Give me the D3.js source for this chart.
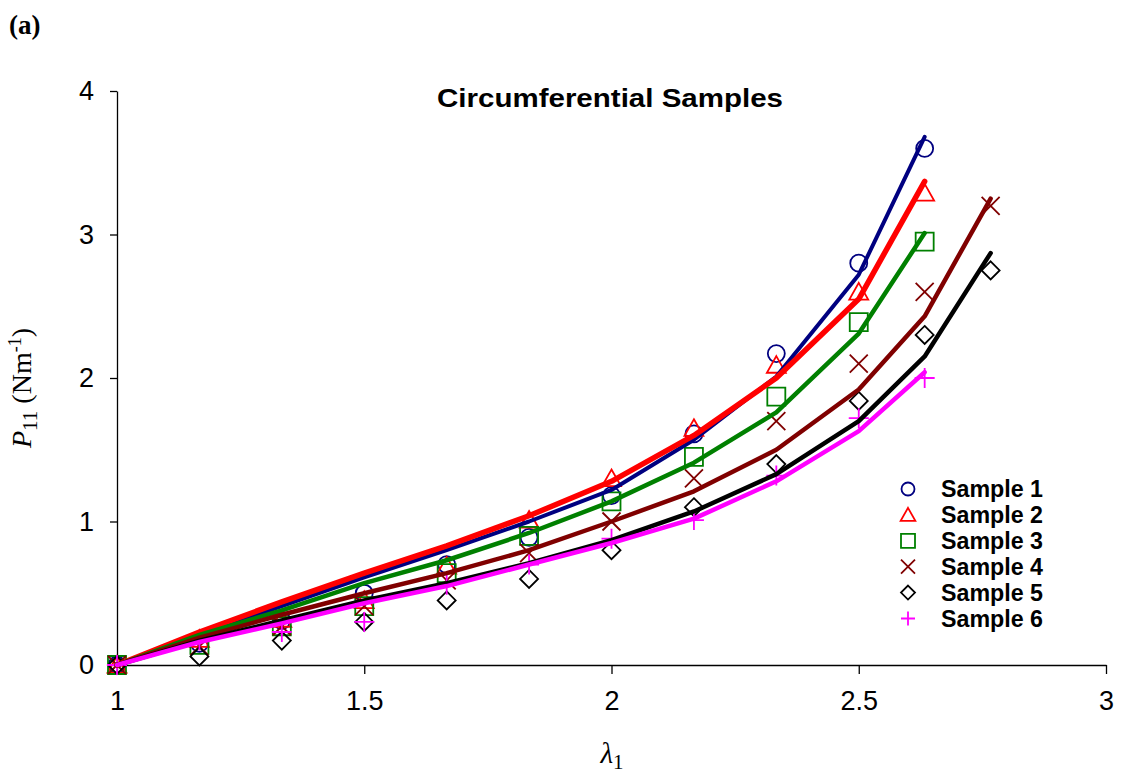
<!DOCTYPE html>
<html>
<head>
<meta charset="utf-8">
<script src="https://cdn.jsdelivr.net/npm/d3@7"></script>
<style>
  body { margin: 0; background: #fff; }
  svg { display: block; }
</style>
</head>
<body>
<div id="graph"></div>
<script>
// Stretch ratios (lambda 1) shared by all samples
var lambda = [1, 1.1667, 1.3333, 1.5, 1.6667, 1.8333, 2, 2.1667, 2.3333, 2.5, 2.6333, 2.7667];

// Measured P11 values (markers)
var sample1 = [0, 0.15, 0.31, 0.50, 0.70, 0.89, 1.18, 1.61, 2.17, 2.80, 3.60];
var sample2 = [0, 0.18, 0.32, 0.45, 0.69, 1.01, 1.30, 1.65, 2.09, 2.60, 3.29];
var sample3 = [0, 0.14, 0.27, 0.41, 0.64, 0.90, 1.14, 1.45, 1.87, 2.39, 2.95];
var sample4 = [0, 0.13, 0.27, 0.41, 0.59, 0.78, 1.00, 1.30, 1.70, 2.10, 2.60, 3.20];
var sample5 = [0, 0.06, 0.17, 0.30, 0.45, 0.60, 0.80, 1.10, 1.40, 1.84, 2.30, 2.75];
var sample6 = [0, 0.17, 0.23, 0.30, 0.56, 0.70, 0.88, 1.01, 1.32, 1.72, 2.00];

// Model fits (lines)
var fit1 = [0, 0.21, 0.41, 0.61, 0.80, 1.00, 1.22, 1.57, 2.01, 2.72, 3.68];
var fit2 = [0, 0.23, 0.44, 0.64, 0.83, 1.04, 1.28, 1.60, 2.00, 2.55, 3.37];
var fit3 = [0, 0.21, 0.38, 0.57, 0.73, 0.92, 1.14, 1.41, 1.76, 2.31, 3.01];
var fit4 = [0, 0.19, 0.35, 0.50, 0.64, 0.80, 1.00, 1.21, 1.50, 1.92, 2.43, 3.25];
var fit5 = [0, 0.17, 0.31, 0.45, 0.57, 0.71, 0.87, 1.07, 1.33, 1.70, 2.15, 2.87];
var fit6 = [0, 0.16, 0.29, 0.43, 0.55, 0.70, 0.85, 1.02, 1.28, 1.63, 2.04];

var names = ['Sample 1', 'Sample 2', 'Sample 3', 'Sample 4', 'Sample 5', 'Sample 6'];
var xTicks = [1, 1.5, 2, 2.5, 3];
var yTicks = [0, 1, 2, 3, 4];

var samples = [sample1, sample2, sample3, sample4, sample5, sample6];
var fits = [fit1, fit2, fit3, fit4, fit5, fit6];
var colors = ['#000080', '#ff0000', '#008000', '#800000', '#000000', '#ff00ff'];
var shapes = ['circle', 'triangle', 'square', 'times', 'diamond', 'plus'];
var lineWidths = [4, 5.5, 4.5, 4.5, 4.5, 4.5];

// Graph dimensions
var width = 1122, height = 779;
var plot = {left: 117, right: 1106, top: 91, bottom: 665};

var x = d3.scaleLinear().domain([1, 3]).range([plot.left, plot.right]);
var y = d3.scaleLinear().domain([0, 4]).range([plot.bottom, plot.top]);

var svg = d3.select('#graph')
    .append('svg')
    .attr('width', width)
    .attr('height', height);

// Marker path for a given shape and half size
function marker(shape, s) {
    switch (shape) {
        case 'circle':
            return 'M' + s + ',0A' + s + ',' + s + ' 0 1,1 ' + (-s) + ',0A' + s + ',' + s + ' 0 1,1 ' + s + ',0Z';
        case 'triangle':
            return 'M0,' + (-s) + 'L' + (s * 1.05) + ',' + (s * 0.85) + 'L' + (-s * 1.05) + ',' + (s * 0.85) + 'Z';
        case 'square':
            return 'M' + (-s) + ',' + (-s) + 'H' + s + 'V' + s + 'H' + (-s) + 'Z';
        case 'times':
            return 'M' + (-s) + ',' + (-s) + 'L' + s + ',' + s + 'M' + s + ',' + (-s) + 'L' + (-s) + ',' + s;
        case 'diamond':
            return 'M0,' + (-s) + 'L' + s + ',0L0,' + s + 'L' + (-s) + ',0Z';
        case 'plus':
            return 'M' + (-s) + ',0H' + s + 'M0,' + (-s) + 'V' + s;
    }
}

// Axes
var xAxis = d3.axisBottom(x).tickValues(xTicks).tickSize(9).tickSizeOuter(0).tickPadding(17)
    .tickFormat(function(d) { return String(d); });
var yAxis = d3.axisLeft(y).tickValues(yTicks).tickSize(7).tickSizeOuter(0).tickPadding(16)
    .tickFormat(function(d) { return String(d); });

var gx = svg.append('g')
    .attr('transform', 'translate(0,' + plot.bottom + ')')
    .call(xAxis);
var gy = svg.append('g')
    .attr('transform', 'translate(' + plot.left + ',0)')
    .call(yAxis);

[gx, gy].forEach(function(g) {
    g.selectAll('path, line').attr('stroke', '#000').attr('stroke-width', 1.3);
    g.selectAll('text')
        .attr('fill', '#000')
        .style('font-family', '"Liberation Sans", Arial, sans-serif')
        .style('font-size', '27px');
});

// Markers
samples.forEach(function(vals, i) {
    svg.append('g')
        .selectAll('path')
        .data(vals)
        .enter()
        .append('path')
            .attr('transform', function(d, j) { return 'translate(' + x(lambda[j]) + ',' + y(d) + ')'; })
            .attr('d', marker(shapes[i], shapes[i] === 'circle' ? 8.5 : (shapes[i] === 'plus' ? 10 : 9)))
            .attr('fill', 'none')
            .attr('stroke', colors[i])
            .attr('stroke-width', 1.8);
});

// Fit lines
var line = d3.line()
    .x(function(d, j) { return x(lambda[j]); })
    .y(function(d) { return y(d); });

fits.forEach(function(vals, i) {
    svg.append('path')
        .attr('d', line(vals))
        .attr('fill', 'none')
        .attr('stroke', colors[i])
        .attr('stroke-width', lineWidths[i])
        .attr('stroke-linejoin', 'round')
        .attr('stroke-linecap', 'round');
});

// Title
svg.append('text')
    .attr('x', 610)
    .attr('y', 107)
    .attr('text-anchor', 'middle')
    .attr('textLength', 346)
    .attr('lengthAdjust', 'spacingAndGlyphs')
    .style('font-family', '"Liberation Sans", Arial, sans-serif')
    .style('font-weight', 'bold')
    .style('font-size', '26px')
    .text('Circumferential Samples');

// Panel label
svg.append('text')
    .attr('x', 9)
    .attr('y', 34)
    .style('font-family', '"Liberation Serif", "Times New Roman", serif')
    .style('font-weight', 'bold')
    .style('font-size', '27px')
    .text('(a)');

// Legend
var legend = svg.append('g');
names.forEach(function(name, i) {
    var ly = 489 + i * 25.9;
    legend.append('path')
        .attr('transform', 'translate(908,' + ly + ')')
        .attr('d', marker(shapes[i], shapes[i] === 'circle' ? 6.5 : 7))
        .attr('fill', 'none')
        .attr('stroke', colors[i])
        .attr('stroke-width', 1.8);
    legend.append('text')
        .attr('x', 941)
        .attr('y', ly + 8)
        .attr('textLength', 102)
        .attr('lengthAdjust', 'spacingAndGlyphs')
        .style('font-family', '"Liberation Sans", Arial, sans-serif')
        .style('font-weight', 'bold')
        .style('font-size', '23px')
        .text(name);
});

// X axis label
var xl = svg.append('text')
    .attr('x', 612)
    .attr('y', 763)
    .attr('text-anchor', 'middle')
    .style('font-family', '"Liberation Serif", "Times New Roman", serif')
    .style('font-size', '29px');
xl.append('tspan').style('font-style', 'italic').text('λ');
xl.append('tspan').attr('dy', 6).style('font-size', '21px').text('1');

// Y axis label
var yl = svg.append('text')
    .attr('transform', 'translate(31,388) rotate(-90)')
    .attr('text-anchor', 'middle')
    .style('font-family', '"Liberation Serif", "Times New Roman", serif')
    .style('font-size', '28px');
yl.append('tspan').style('font-style', 'italic').text('P');
yl.append('tspan').attr('dy', 6).style('font-size', '21px').text('11');
yl.append('tspan').attr('dy', -6).text(' (Nm');
yl.append('tspan').attr('dy', -10).style('font-size', '18px').text('-1');
yl.append('tspan').attr('dy', 10).text(')');
</script>
</body>
</html>
